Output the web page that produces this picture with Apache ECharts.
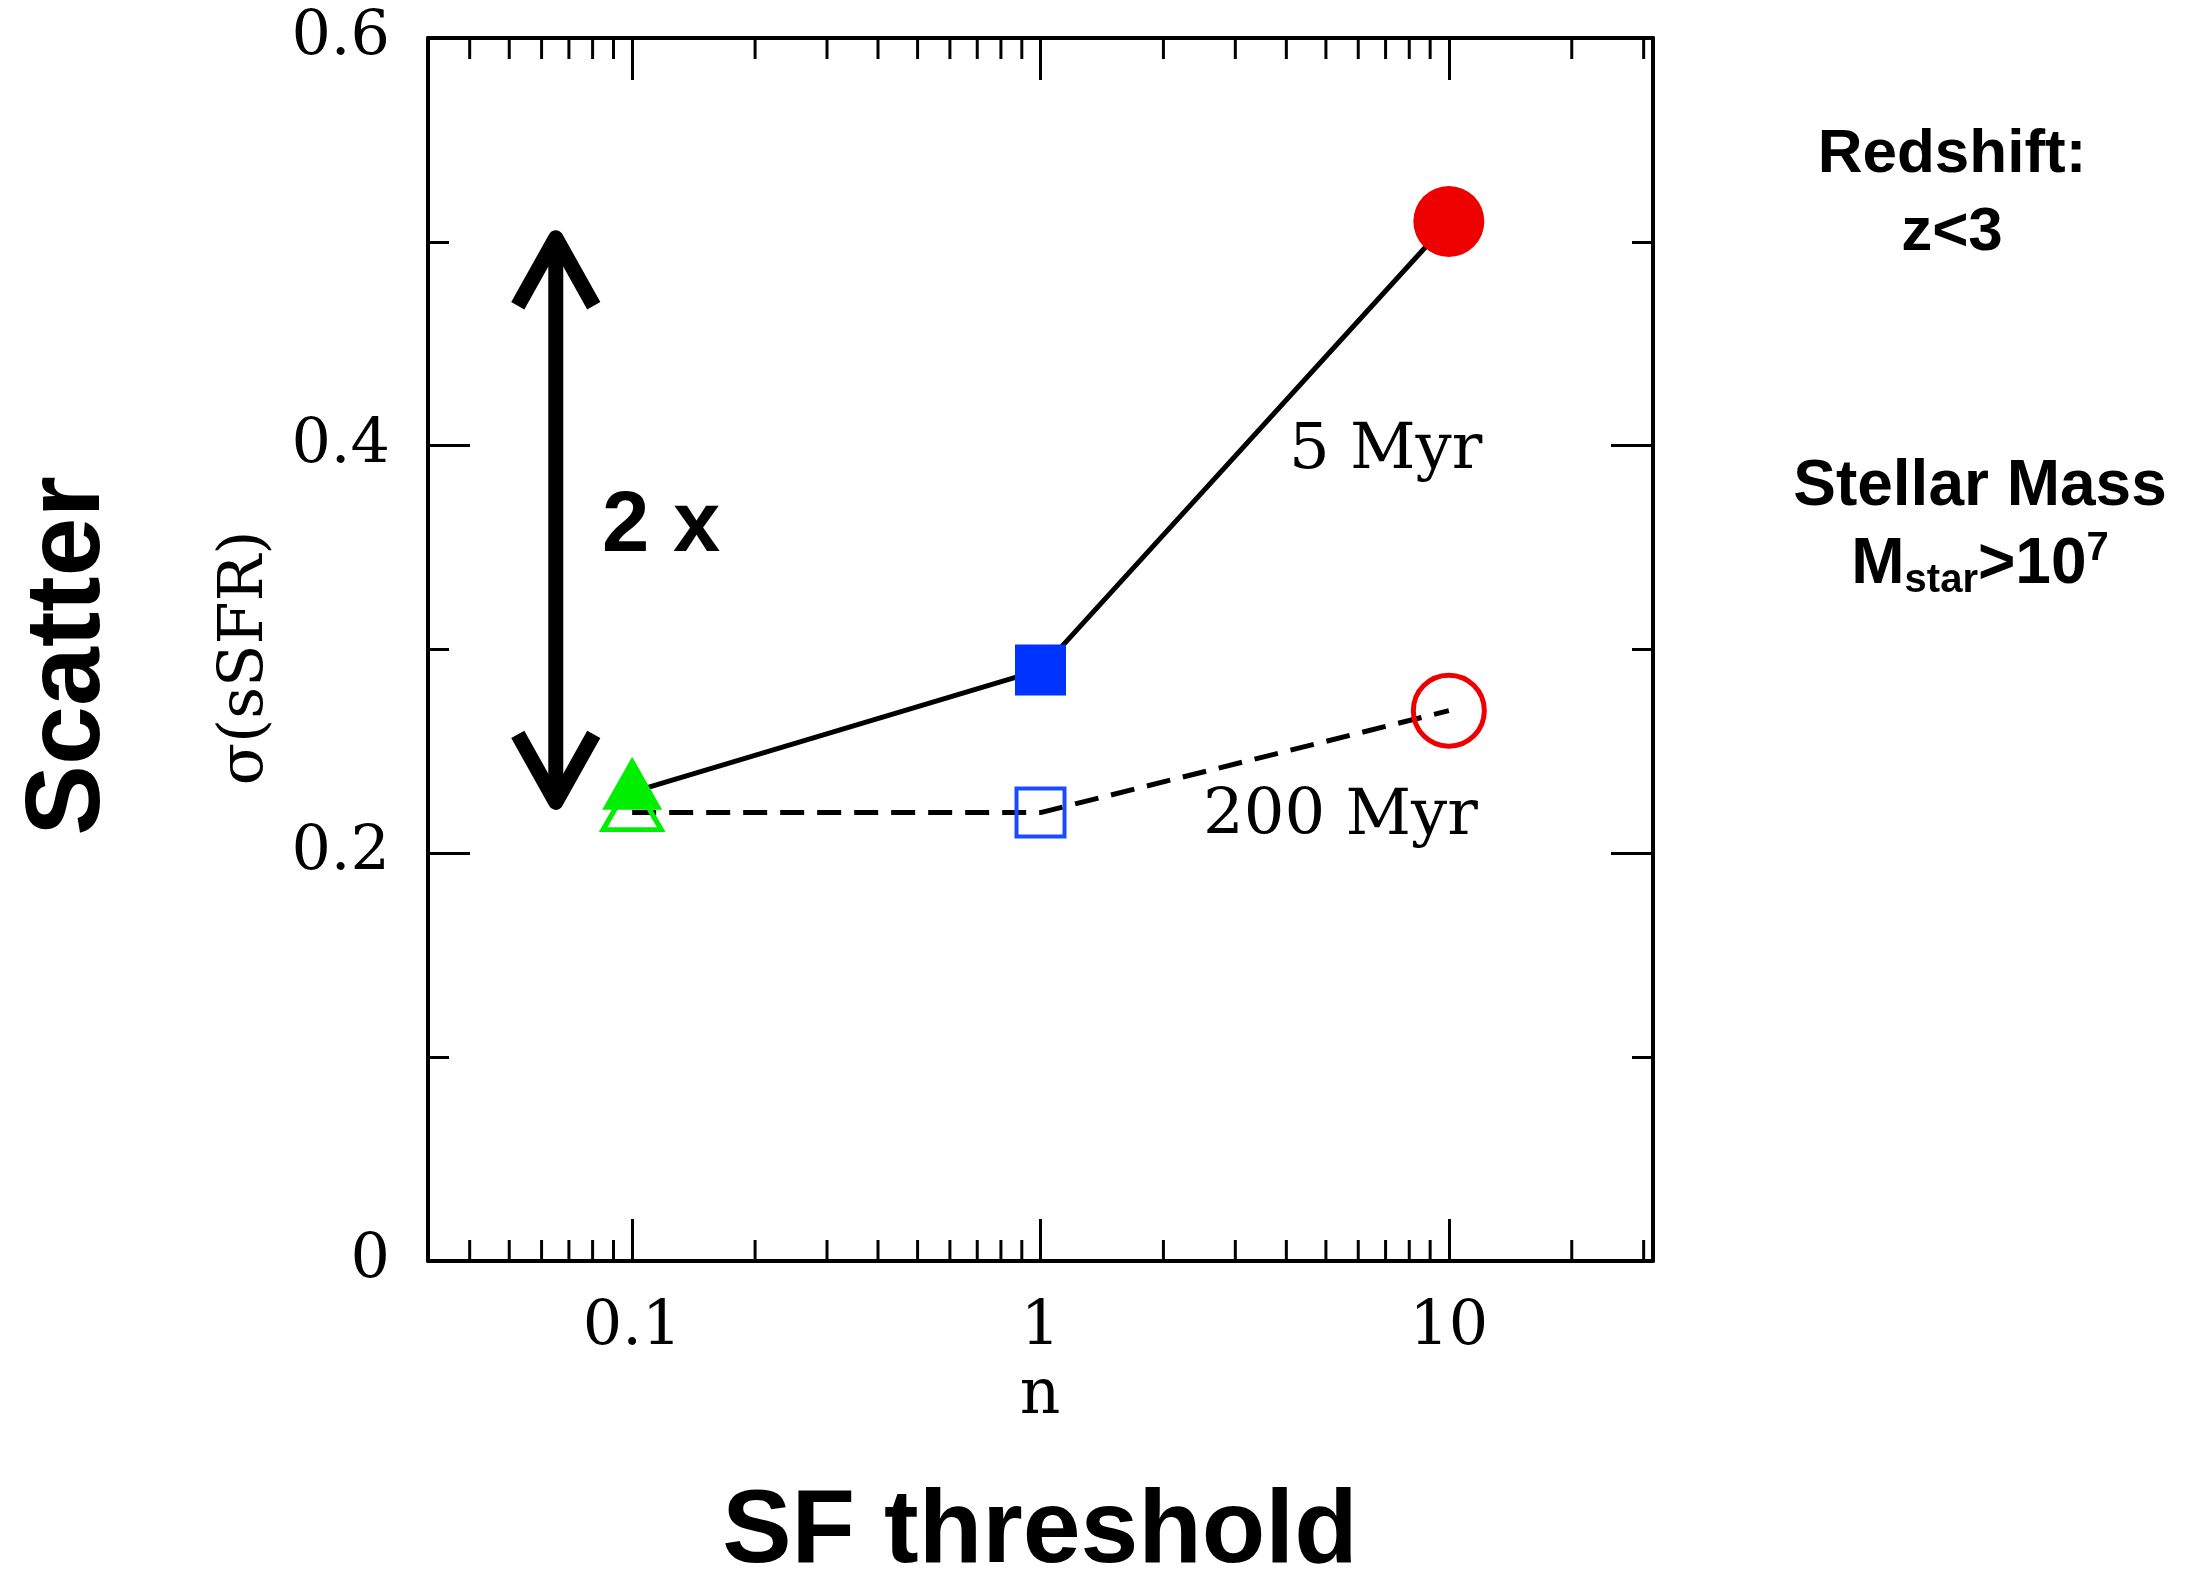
<!DOCTYPE html>
<html>
<head>
<meta charset="utf-8">
<script src="https://cdn.jsdelivr.net/npm/echarts@6/dist/echarts.min.js"></script>
<style>
  html, body { margin: 0; padding: 0; background: #fff; }
  #main { width: 2202px; height: 1572px; }
</style>
</head>
<body>
<div id="main"></div>
<script>
// SF threshold n (x) and scatter of sSFR (y)
const thresholds = [0.1, 1, 10];
const scatter5Myr = [0.23, 0.29, 0.51];
const scatter200Myr = [0.22, 0.22, 0.27];

// log-axis minor ticks
const xMinorTicks = [0.04, 0.05, 0.06, 0.07, 0.08, 0.09,
  0.2, 0.3, 0.4, 0.5, 0.6, 0.7, 0.8, 0.9,
  2, 3, 4, 5, 6, 7, 8, 9, 20, 30];

// "2 x" arrow
const arrowX = 0.065;
const arrowY = [0.225, 0.502];

const serif = 'DejaVu Serif';
const sans = 'Liberation Sans';

const myChart = echarts.init(document.getElementById('main'));

const axisLine = { show: true, onZero: false, lineStyle: { color: '#000', width: 4 } };
const axisTick = { show: true, inside: true, length: 42, lineStyle: { color: '#000', width: 3 } };

function logLabel(v) {
  const l = Math.log10(v);
  const p = Math.round(l);
  if (Math.abs(l - p) > 1e-6) return '';
  return p < 0 ? v.toFixed(-p) : String(Math.round(v));
}

// markers: 200 Myr open, 5 Myr filled
const openStyles = [
  { symbol: 'triangle', symbolSize: [58, 50], symbolOffset: [0, -8], itemStyle: { color: 'rgba(0,0,0,0)', borderColor: '#00ee00', borderWidth: 5 } },
  { symbol: 'rect', symbolSize: 48, itemStyle: { color: 'rgba(0,0,0,0)', borderColor: '#1a4cff', borderWidth: 4 } },
  { symbol: 'circle', symbolSize: 71, itemStyle: { color: 'rgba(0,0,0,0)', borderColor: '#ee0000', borderWidth: 5 } },
];
const filledStyles = [
  { symbol: 'triangle', symbolSize: [60, 53], symbolOffset: [0, -9], itemStyle: { color: '#00ee00' } },
  { symbol: 'rect', symbolSize: 51, itemStyle: { color: '#0033ff' } },
  { symbol: 'circle', symbolSize: 71, itemStyle: { color: '#ee0000' } },
];

function txt(x, y, text, font, size, extra) {
  return Object.assign({
    type: 'text', x: x, y: y,
    style: Object.assign({
      text: text, fontFamily: font, fontSize: size, fill: '#000',
      align: 'center', verticalAlign: 'middle', textAlign: 'center', textVerticalAlign: 'middle',
    }, extra && extra.style),
  }, extra && extra.el);
}

const option = {
  backgroundColor: '#fff',
  animation: false,
  grid: { left: 428, right: 549, top: 38, bottom: 311 },
  xAxis: [
    {
      type: 'log', logBase: 10, position: 'bottom',
      min: Math.pow(10, -1.5), max: Math.pow(10, 1.5),
      axisLine, axisTick,
      axisLabel: { margin: 36, fontFamily: serif, fontSize: 62, color: '#000', formatter: logLabel, showMinLabel: false, showMaxLabel: false },
      splitLine: { show: false },
    },
    {
      type: 'log', logBase: 10, position: 'top',
      min: Math.pow(10, -1.5), max: Math.pow(10, 1.5),
      axisLine, axisTick,
      axisLabel: { show: false },
      splitLine: { show: false },
    },
  ],
  yAxis: [
    {
      type: 'value', position: 'left', min: 0, max: 0.6, interval: 0.2,
      axisLine, axisTick,
      minorTick: { show: true, splitNumber: 2, length: 21, lineStyle: { color: '#000', width: 3 } },
      axisLabel: { margin: 38, padding: [8, 0, 0, 0], fontFamily: serif, fontSize: 62, color: '#000', formatter: (v) => String(+v.toFixed(1)) },
      splitLine: { show: false },
    },
    {
      type: 'value', position: 'right', min: 0, max: 0.6, interval: 0.2,
      axisLine, axisTick,
      minorTick: { show: true, splitNumber: 2, length: 21, lineStyle: { color: '#000', width: 3 } },
      axisLabel: { show: false },
      splitLine: { show: false },
    },
  ],
  series: [
    {
      type: 'custom', silent: true,
      data: xMinorTicks.map((v) => [v, 0]),
      encode: { x: 0, y: 1 },
      renderItem: function (params, api) {
        const v = api.value(0);
        const b = api.coord([v, 0]);
        const t = api.coord([v, 0.6]);
        const st = { stroke: '#000', lineWidth: 3 };
        return {
          type: 'group',
          children: [
            { type: 'line', shape: { x1: b[0], y1: b[1], x2: b[0], y2: b[1] - 21 }, style: st },
            { type: 'line', shape: { x1: t[0], y1: t[1], x2: t[0], y2: t[1] + 21 }, style: st },
          ],
        };
      },
    },
    {
      name: '200 Myr', type: 'line', silent: true,
      data: thresholds.map((x, i) => Object.assign({ value: [x, scatter200Myr[i]] }, openStyles[i])),
      lineStyle: { color: '#000', width: 5, type: [24, 13] },
      z: 3,
    },
    {
      name: '5 Myr', type: 'line', silent: true,
      data: thresholds.map((x, i) => Object.assign({ value: [x, scatter5Myr[i]] }, filledStyles[i])),
      lineStyle: { color: '#000', width: 5 },
      z: 4,
    },
    {
      type: 'custom', silent: true,
      data: [[arrowX, arrowY[0], arrowY[1]]],
      encode: { x: 0, y: [1, 2] },
      renderItem: function (params, api) {
        const bot = api.coord([api.value(0), api.value(1)]);
        const top = api.coord([api.value(0), api.value(2)]);
        const st = { stroke: '#000', lineWidth: 15, fill: null, lineJoin: 'round', lineCap: 'butt' };
        return {
          type: 'group',
          children: [
            { type: 'line', shape: { x1: top[0], y1: top[1], x2: bot[0], y2: bot[1] }, style: st },
            { type: 'polyline', shape: { points: [[top[0] - 38, top[1] + 68], top, [top[0] + 38, top[1] + 68]] }, style: st },
            { type: 'polyline', shape: { points: [[bot[0] - 38, bot[1] - 68], bot, [bot[0] + 38, bot[1] - 68]] }, style: st },
          ],
        };
      },
    },
  ],
  graphic: [
    txt(70, 656, 'Scatter', sans, 106, { style: { fontWeight: 'bold' }, el: { rotation: Math.PI / 2 } }),
    txt(246, 658, 'σ(sSFR)', serif, 62, { el: { rotation: Math.PI / 2 } }),
    txt(1040, 1397, 'n', serif, 63),
    txt(1040, 1533, 'SF threshold', sans, 104, { style: { fontWeight: 'bold' } }),
    txt(602, 528, '2 x', sans, 85, { style: { fontWeight: 'bold', align: 'left', textAlign: 'left' } }),
    txt(1289, 451, '5 Myr', serif, 64, { style: { align: 'left', textAlign: 'left' } }),
    txt(1203, 817, '200 Myr', serif, 64, { style: { align: 'left', textAlign: 'left' } }),
    txt(1952, 155, 'Redshift:', sans, 62, { style: { fontWeight: 'bold' } }),
    txt(1952, 233, 'z<3', sans, 62, { style: { fontWeight: 'bold' } }),
    txt(1980, 487, 'Stellar Mass', sans, 64, { style: { fontWeight: 'bold' } }),
    txt(1980, 565, '{a|M}{b|star}{a|>10}{c|7}', sans, 64, { style: {
      fontWeight: 'bold',
      rich: {
        a: { fontFamily: sans, fontWeight: 'bold', fontSize: 64, lineHeight: 72, fill: '#000' },
        b: { fontFamily: sans, fontWeight: 'bold', fontSize: 40, lineHeight: 40, verticalAlign: 'bottom', fill: '#000' },
        c: { fontFamily: sans, fontWeight: 'bold', fontSize: 40, lineHeight: 54, verticalAlign: 'top', fill: '#000' },
      },
    } }),
  ],
};

myChart.setOption(option);
</script>
</body>
</html>
